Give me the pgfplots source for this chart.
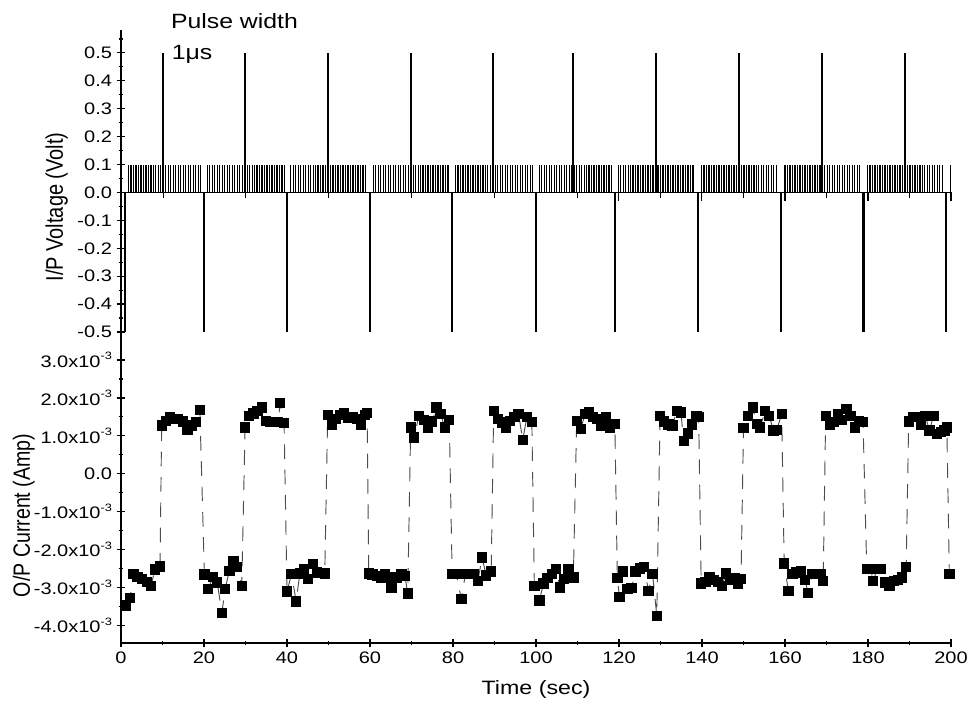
\documentclass[border=0pt]{standalone}
\usepackage{fontspec}
\setmainfont{Liberation Sans}[FakeStretch=1.2]
\newfontfamily\plainsans{Liberation Sans}
\usepackage{pgfplots}
\pgfplotsset{compat=1.18}
\newcommand{\xten}[1]{#1x10\raisebox{0.45em}{\fontsize{8}{9}\selectfont -3}}
\begin{document}
\begin{tikzpicture}
\useasboundingbox (-90.75pt,-48.75pt) rectangle (642pt,482.25pt);
\pgfplotsset{
  common/.style={
    scale only axis, width=622.5pt, xmin=0, xmax=200,
    tick align=outside,
    major tick length=6.5pt, minor tick length=3.5pt,
    tick style={black, line width=0.9pt},
    tick label style={font=\fontsize{12.5}{14}\selectfont},
    /pgf/number format/assume math mode=true,
  },
  noarrow/.style={
    axis line style={-, line width=1pt},
    x axis line style={-}, y axis line style={-},
    every outer x axis line/.append style={-},
    every outer y axis line/.append style={-},
  }
}
% ---------------- top: input voltage ----------------
\begin{axis}[common, at={(0pt,233.25pt)}, anchor=south west, height=226.5pt,
  ymin=-0.5, ymax=0.582, axis y line=left, axis x line=none, xtick=\empty,
  noarrow,
  clip=false,
  ytick={-0.5,-0.4,-0.3,-0.2,-0.1,0,0.1,0.2,0.3,0.4,0.5},
  yticklabels={-0.5,-0.4,-0.3,-0.2,-0.1,0.0,0.1,0.2,0.3,0.4,0.5},
  minor ytick={-0.45,-0.35,-0.25,-0.15,-0.05,0.05,0.15,0.25,0.35,0.45,0.55},
  ylabel={\scalebox{1}[1.2]{\plainsans I/P Voltage (Volt)}},
  every axis y label/.style={at={(axis description cs:-0.0775,0.414)}, rotate=90, anchor=center, font=\fontsize{15}{18}\selectfont},
]
% baseline
\addplot[black, line width=0.6pt, no marks] coordinates {(0,0)(200,0)};
% narrow 0.1 V pulses
\addplot[ycomb, black, line width=0.95pt, no marks] coordinates {
(1.8,.1)(2.4,.1)(3.0,.1)(3.6,.1)(4.2,.1)(4.8,.1)(5.4,.1)(6.0,.1)(6.6,.1)(7.2,.1)(7.8,.1)(8.4,.1)(9.0,.1)(9.6,.1)(10.2,.1)(10.8,.1)(11.4,.1)(12.0,.1)(12.6,.1)(13.2,.1)(13.8,.1)(14.4,.1)(15.0,.1)(15.6,.1)(16.2,.1)(16.8,.1)(17.4,.1)(18.0,.1)(18.6,.1)(19.2,.1)
(20.8,.1)(21.4,.1)(22.0,.1)(22.6,.1)(23.2,.1)(23.8,.1)(24.4,.1)(25.0,.1)(25.6,.1)(26.2,.1)(26.8,.1)(27.4,.1)(28.0,.1)(28.6,.1)(29.2,.1)(29.8,.1)(30.4,.1)(31.0,.1)(31.6,.1)(32.2,.1)(32.8,.1)(33.4,.1)(34.0,.1)(34.6,.1)(35.2,.1)(35.8,.1)(36.4,.1)(37.0,.1)(37.6,.1)(38.2,.1)(38.8,.1)(39.4,.1)
(40.9,.1)(41.5,.1)(42.1,.1)(42.7,.1)(43.3,.1)(43.9,.1)(44.5,.1)(45.1,.1)(45.7,.1)(46.3,.1)(46.9,.1)(47.5,.1)(48.1,.1)(48.7,.1)(49.3,.1)(49.9,.1)(50.5,.1)(51.1,.1)(51.7,.1)(52.3,.1)(52.9,.1)(53.5,.1)(54.1,.1)(54.7,.1)(55.3,.1)(55.9,.1)(56.5,.1)(57.1,.1)(57.7,.1)(58.3,.1)(58.9,.1)
(60.8,.1)(61.4,.1)(62.0,.1)(62.6,.1)(63.2,.1)(63.8,.1)(64.4,.1)(65.0,.1)(65.6,.1)(66.2,.1)(66.8,.1)(67.4,.1)(68.0,.1)(68.6,.1)(69.2,.1)(69.8,.1)(70.4,.1)(71.0,.1)(71.6,.1)(72.2,.1)(72.8,.1)(73.4,.1)(74.0,.1)(74.6,.1)(75.2,.1)(75.8,.1)(76.4,.1)(77.0,.1)(77.6,.1)(78.2,.1)(78.8,.1)
(80.6,.1)(81.2,.1)(81.8,.1)(82.4,.1)(83.0,.1)(83.6,.1)(84.2,.1)(84.8,.1)(85.4,.1)(86.0,.1)(86.6,.1)(87.2,.1)(87.8,.1)(88.4,.1)(89.0,.1)(89.6,.1)(90.2,.1)(90.8,.1)(91.4,.1)(92.0,.1)(92.6,.1)(93.2,.1)(93.8,.1)(94.4,.1)(95.0,.1)(95.6,.1)(96.2,.1)(96.8,.1)(97.4,.1)(98.0,.1)(98.6,.1)(99.2,.1)
(100.8,.1)(101.4,.1)(102.0,.1)(102.6,.1)(103.2,.1)(103.8,.1)(104.4,.1)(105.0,.1)(105.6,.1)(106.2,.1)(106.8,.1)(107.4,.1)(108.0,.1)(108.6,.1)(109.2,.1)(109.8,.1)(110.4,.1)(111.0,.1)(111.6,.1)(112.2,.1)(112.8,.1)(113.4,.1)(114.0,.1)(114.6,.1)(115.2,.1)(115.8,.1)(116.4,.1)(117.0,.1)(117.6,.1)(118.2,.1)
(119.8,.1)(120.4,.1)(121.0,.1)(121.6,.1)(122.2,.1)(122.8,.1)(123.4,.1)(124.0,.1)(124.6,.1)(125.2,.1)(125.8,.1)(126.4,.1)(127.0,.1)(127.6,.1)(128.2,.1)(128.8,.1)(129.4,.1)(130.0,.1)(130.6,.1)(131.2,.1)(131.8,.1)(132.4,.1)(133.0,.1)(133.6,.1)(134.2,.1)(134.8,.1)(135.4,.1)(136.0,.1)(136.6,.1)(137.2,.1)(137.8,.1)
(139.9,.1)(140.5,.1)(141.1,.1)(141.7,.1)(142.3,.1)(142.9,.1)(143.5,.1)(144.1,.1)(144.7,.1)(145.3,.1)(145.9,.1)(146.5,.1)(147.1,.1)(147.7,.1)(148.3,.1)(148.9,.1)(149.5,.1)(150.1,.1)(150.7,.1)(151.3,.1)(151.9,.1)(152.5,.1)(153.1,.1)(153.7,.1)(154.3,.1)(154.9,.1)(155.5,.1)(156.1,.1)(156.7,.1)(157.3,.1)(157.9,.1)
(160.0,.1)(160.6,.1)(161.2,.1)(161.8,.1)(162.4,.1)(163.0,.1)(163.6,.1)(164.2,.1)(164.8,.1)(165.4,.1)(166.0,.1)(166.6,.1)(167.2,.1)(167.8,.1)(168.4,.1)(169.0,.1)(169.6,.1)(170.2,.1)(170.8,.1)(171.4,.1)(172.0,.1)(172.6,.1)(173.2,.1)(173.8,.1)(174.4,.1)(175.0,.1)(175.6,.1)(176.2,.1)(176.8,.1)(177.4,.1)(178.0,.1)
(179.9,.1)(180.5,.1)(181.1,.1)(181.7,.1)(182.3,.1)(182.9,.1)(183.5,.1)(184.1,.1)(184.7,.1)(185.3,.1)(185.9,.1)(186.5,.1)(187.1,.1)(187.7,.1)(188.3,.1)(188.9,.1)(189.5,.1)(190.1,.1)(190.7,.1)(191.3,.1)(191.9,.1)(192.5,.1)(193.1,.1)(193.7,.1)(194.3,.1)(194.9,.1)(195.5,.1)(196.1,.1)(196.7,.1)(197.3,.1)(197.9,.1)
(199.8,.1)
};
% small undershoots
\addplot[ycomb, black, line width=0.8pt, no marks] coordinates {
(10.3,-.02)(30.0,-.02)(50.0,-.02)(70.0,-.02)(90.0,-.02)(110.0,-.02)(130.0,-.02)(149.9,-.02)(170.0,-.02)(190.0,-.02)
(119.8,-.03)(139.9,-.03)(160.0,-.03)(180.0,-.03)(200.0,-.03)
};
% large +/-0.5 V spikes
\addplot[ycomb, black, line width=1.6pt, no marks] coordinates {
(10.1,0.5)(29.9,0.5)(49.9,0.5)(69.9,0.5)(89.6,0.5)(108.9,0.5)(128.9,0.5)(148.9,0.5)(169.0,0.5)(188.9,0.5)
(1.0,-0.5)(20.0,-0.5)(40.0,-0.5)(60.0,-0.5)(79.8,-0.5)(100.0,-0.5)(119.0,-0.5)(139.0,-0.5)(159.0,-0.5)(178.9,-0.5)(198.8,-0.5)
};
\node[anchor=base west, font=\fontsize{15.5}{18}\selectfont, inner sep=0pt] at (axis cs:12.0,0.588) {Pulse width};
\node[anchor=base west, font=\fontsize{15.5}{18}\selectfont, inner sep=0pt] at (axis cs:12.2,0.477) {1μs};
\end{axis}
% ---------------- bottom: output current ----------------
\begin{axis}[common, at={(0pt,0pt)}, anchor=south west, height=233.25pt,
  ymin=-4.47, ymax=3.74, axis x line=bottom, axis y line=left,
  noarrow,
  xtick={0,20,40,60,80,100,120,140,160,180,200},
  minor xtick={10,30,50,70,90,110,130,150,170,190},
  ytick={-4,-3,-2,-1,0,1,2,3},
  yticklabels={\xten{-4.0},\xten{-3.0},\xten{-2.0},\xten{-1.0},0.0,\xten{1.0},\xten{2.0},\xten{3.0}},
  minor ytick={-3.5,-2.5,-1.5,-0.5,0.5,1.5,2.5},
  xlabel={Time (sec)}, ylabel={\scalebox{1}[1.2]{\plainsans O/P Current (Amp)}},
  every axis y label/.style={at={(axis description cs:-0.117,0.41)}, rotate=90, anchor=center, font=\fontsize{14.7}{18}\selectfont},
  every axis x label/.style={at={(axis description cs:0.5,-0.151)}, anchor=center, font=\fontsize{14.5}{18}\selectfont},
]
\addplot[black!70, line width=0.7pt, dash pattern=on 11pt off 8pt,
  mark=square*, mark size=3.5pt, mark options={solid, fill=black, draw=black}] coordinates {
(1.2,-3.48)(2.2,-3.28)(3.0,-2.65)(4.0,-2.72)(5.1,-2.78)(6.2,-2.85)(7.2,-2.97)(8.2,-2.53)(9.4,-2.45)
(9.8,1.27)(10.8,1.40)(11.8,1.49)(12.8,1.44)(13.8,1.44)(14.9,1.38)(16.0,1.15)(17.0,1.27)(18.1,1.36)(19.0,1.68)
(20.1,-2.66)(21.0,-3.04)(22.2,-2.72)(23.2,-2.87)(24.3,-3.68)(25.1,-3.04)(26.1,-2.56)(27.1,-2.31)(28.0,-2.47)(29.1,-2.96)
(29.9,1.22)(30.9,1.53)(31.9,1.59)(32.9,1.66)(33.9,1.75)(34.9,1.40)(35.9,1.36)(36.9,1.36)(37.9,1.36)(38.3,1.86)(39.3,1.33)
(40.0,-3.11)(41.1,-2.65)(42.2,-3.37)(43.1,-2.63)(44.1,-2.52)(45.1,-2.78)(46.2,-2.39)(47.2,-2.61)(48.2,-2.62)(49.1,-2.63)
(49.8,1.55)(50.8,1.30)(51.8,1.45)(52.8,1.55)(53.8,1.60)(54.8,1.48)(55.8,1.50)(56.8,1.45)(57.8,1.30)(58.8,1.55)(59.3,1.60)
(59.7,-2.63)(60.6,-2.66)(61.6,-2.70)(62.6,-2.74)(63.6,-2.65)(64.6,-2.74)(65.2,-3.00)(66.4,-2.74)(67.6,-2.65)(68.4,-2.70)(69.1,-3.16)
(69.8,1.22)(70.6,0.96)(71.8,1.53)(73.0,1.42)(74.0,1.22)(75.0,1.38)(76.0,1.75)(77.0,1.58)(78.0,1.22)(79.1,1.42)
(79.8,-2.65)(80.8,-2.65)(82.0,-3.31)(83.0,-2.65)(84.0,-2.65)(85.0,-2.65)(86.0,-2.83)(87.0,-2.21)(88.0,-2.69)(89.2,-2.58)
(89.8,1.65)(90.8,1.45)(91.8,1.35)(92.8,1.22)(93.8,1.40)(94.8,1.50)(95.8,1.58)(96.8,0.89)(97.8,1.49)(99.0,1.36)
(99.6,-2.96)(100.8,-3.35)(101.8,-2.90)(102.8,-2.75)(103.8,-2.65)(104.8,-2.52)(105.8,-3.00)(106.8,-2.78)(107.8,-2.52)(109.0,-2.74)
(109.8,1.40)(110.8,1.18)(111.8,1.58)(112.8,1.62)(113.8,1.50)(114.8,1.44)(115.8,1.27)(116.8,1.49)(117.8,1.22)(119.0,1.31)
(119.6,-2.75)(120.1,-3.25)(121.0,-2.58)(122.0,-3.05)(123.0,-3.02)(124.0,-2.58)(125.0,-2.50)(126.0,-2.46)(127.1,-3.09)(128.1,-2.65)(129.1,-3.75)
(129.9,1.53)(130.9,1.38)(131.9,1.30)(132.9,1.27)(133.9,1.66)(134.9,1.62)(135.6,0.87)(136.6,1.06)(137.6,1.30)(138.7,1.53)(139.2,1.49)
(139.8,-2.90)(140.8,-2.85)(141.8,-2.74)(142.8,-2.81)(143.8,-2.85)(144.8,-2.96)(145.8,-2.63)(146.8,-2.81)(147.8,-2.75)(148.6,-2.91)(149.4,-2.78)
(150.0,1.21)(151.0,1.53)(152.2,1.75)(153.2,1.31)(154.0,1.22)(155.2,1.65)(156.2,1.53)(157.2,1.14)(158.0,1.15)(159.2,1.58)
(159.8,-2.37)(160.8,-3.09)(161.8,-2.65)(162.8,-2.61)(163.8,-2.56)(164.8,-2.81)(165.6,-3.15)(166.6,-2.65)(167.6,-2.65)(168.6,-2.65)(169.2,-2.83)
(169.8,1.53)(170.8,1.29)(171.8,1.36)(172.8,1.58)(173.8,1.42)(174.8,1.71)(175.8,1.53)(176.8,1.22)(177.8,1.40)(178.8,1.36)
(179.7,-2.52)(180.7,-2.52)(181.2,-2.84)(182.2,-2.52)(183.2,-2.52)(184.2,-2.87)(185.2,-2.96)(186.2,-2.83)(187.2,-2.80)(188.2,-2.74)(189.2,-2.46)
(189.8,1.38)(190.8,1.49)(191.8,1.49)(192.8,1.29)(193.8,1.53)(194.8,1.14)(195.8,1.53)(196.6,1.05)(197.6,1.10)(198.4,1.14)(199.0,1.22)
(199.6,-2.65)
};
\end{axis}
\end{tikzpicture}
\end{document}
